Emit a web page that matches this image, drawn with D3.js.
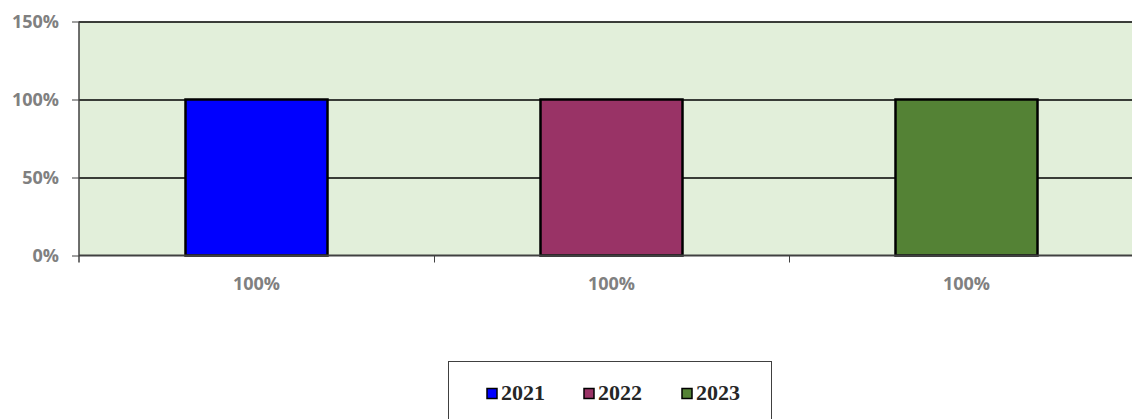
<!DOCTYPE html>
<html lang="en">
<head>
<meta charset="UTF-8">
<title>2021-2023</title>
<script src="https://d3js.org/d3.v7.min.js"></script>
</head>
<body style="margin: 0; background: #fff;">
<script>
// chart data
const categories = ["A", "B", "C"];
const series = ["2021", "2022", "2023"];
const values = [1, 1, 1];
const catLabels = ["100%", "100%", "100%"];
const yTicks = [0, 0.5, 1, 1.5];
const colors = ["#0000ff", "#993366", "#548235"];

const width = 1132, height = 419;
const margin = { top: 21.5, left: 79, bottom: 163.5 };
const plotW = 1065;
const innerH = height - margin.top - margin.bottom;

const svg = d3.select("body").append("svg")
  .attr("width", width)
  .attr("height", height);

const g = svg.append("g")
  .attr("transform", `translate(${margin.left},${margin.top})`);

const x = d3.scaleBand().domain(categories).range([0, plotW]);
const y = d3.scaleLinear().domain([0, 1.5]).range([innerH, 0]);

// plot background
g.append("rect")
  .attr("width", plotW)
  .attr("height", innerH)
  .attr("fill", "#e2efda");

// gridlines
g.selectAll(".grid")
  .data(yTicks.filter(d => d > 0))
  .enter().append("line")
  .attr("x1", 0).attr("x2", plotW)
  .attr("y1", d => Math.round(y(d)) + 0.5)
  .attr("y2", d => Math.round(y(d)) + 0.5)
  .attr("stroke", "#000")
  .attr("stroke-width", 1.3);

// bars
const barW = 142;
g.selectAll(".bar")
  .data(values)
  .enter().append("rect")
  .attr("x", (d, i) => x(categories[i]) + x.bandwidth() / 2 - barW / 2)
  .attr("y", d => y(d))
  .attr("width", barW)
  .attr("height", d => innerH - y(d))
  .attr("fill", (d, i) => colors[i])
  .attr("stroke", "#000")
  .attr("stroke-width", 2.5);

// y axis
const yAxis = g.append("g")
  .call(d3.axisLeft(y).tickValues(yTicks).tickFormat(d3.format(".0%")).tickSize(7).tickPadding(13));
yAxis.select(".domain").attr("stroke", "#404040").attr("stroke-width", 1.5).attr("d", `M0,0V${innerH + 7}`);
yAxis.selectAll(".tick line").attr("stroke", "#404040");
yAxis.selectAll("text")
  .attr("fill", "#808080")
  .style("font-family", "'Open Sans', sans-serif")
  .style("font-weight", "bold")
  .style("font-size", "18px");

// x axis
const xAxis = g.append("g")
  .attr("transform", `translate(0,${innerH})`);
xAxis.append("line")
  .attr("x1", 0).attr("x2", plotW)
  .attr("stroke", "#404040").attr("stroke-width", 2);
xAxis.selectAll(".xtick")
  .data(categories.slice(1))
  .enter().append("line")
  .attr("x1", d => Math.round(x(d)) + 0.5)
  .attr("x2", d => Math.round(x(d)) + 0.5)
  .attr("y1", 0).attr("y2", 7)
  .attr("stroke", "#404040");
xAxis.selectAll(".xlabel")
  .data(categories)
  .enter().append("text")
  .attr("x", d => x(d) + x.bandwidth() / 2)
  .attr("y", 34)
  .attr("text-anchor", "middle")
  .attr("fill", "#808080")
  .style("font-family", "'Open Sans', sans-serif")
  .style("font-weight", "bold")
  .style("font-size", "18px")
  .text((d, i) => catLabels[i]);

// legend
const legend = svg.append("g");
legend.append("rect")
  .attr("x", 448.5).attr("y", 361.5)
  .attr("width", 323).attr("height", 70)
  .attr("fill", "#fff")
  .attr("stroke", "#404040");
const itemX = [487, 584, 682];
series.forEach((s, i) => {
  legend.append("rect")
    .attr("x", itemX[i]).attr("y", 388.5)
    .attr("width", 10).attr("height", 10)
    .attr("fill", colors[i])
    .attr("stroke", "#000")
    .attr("stroke-width", 1.5);
  legend.append("text")
    .attr("x", itemX[i] + 14).attr("y", 400)
    .attr("fill", "#262626")
    .style("font-family", "'Liberation Serif', serif")
    .style("font-weight", "bold")
    .style("font-size", "22px")
    .text(s);
});
</script>
</body>
</html>
